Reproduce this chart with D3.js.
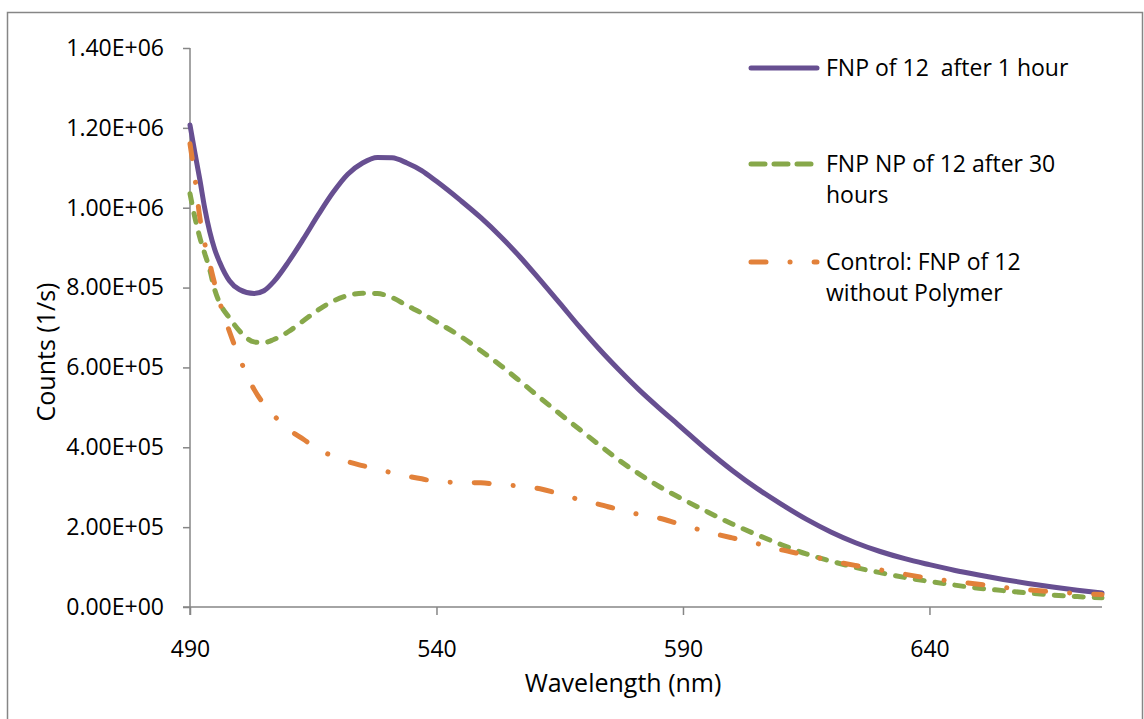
<!DOCTYPE html>
<html>
<head>
<meta charset="utf-8">
<script src="https://cdn.jsdelivr.net/npm/d3@7"></script>
<style>
  html, body { margin: 0; padding: 0; background: #fff; }
  svg { display: block; }
  text { font-family: "Open Sans", "Noto Sans", "Liberation Sans", sans-serif; fill: #000; white-space: pre; }
</style>
</head>
<body>
<svg id="chart" width="1144" height="719"></svg>
<script>
// ---- data (wavelength in nm, counts in 1/s) ----
const wavelengths = [490,491,492,493,494,495,496,498,500,503,505,507,510,513,516,519,522,525,528,531,534,537,540,545,549,553,557,561,565,569,573,577,581,585,589,595,600,605,610,615,620,625,630,635,640,645,650,655,660,665,670,675];

const fnp1hour = [1207000,1137000,1070000,998000,940000,896000,864000,817000,795000,785000,792000,815000,865000,922000,982000,1038000,1084000,1112000,1126000,1125000,1112000,1093000,1066000,1017000,975000,928000,876000,819000,761000,702000,646000,594000,545000,500000,457000,392000,342000,297000,257000,220000,188000,161000,139000,121000,106000,92000,80000,69000,59000,50000,42000,35000];

const fnp30hours = [1035000,975000,925000,885000,845000,795000,762000,724000,692000,664000,662000,670000,690000,717000,744000,766000,780000,786000,785000,775000,755000,736000,714000,677000,642000,605000,565000,524000,484000,445000,406000,368000,334000,303000,276000,238000,208000,181000,156000,133000,115000,99000,86000,74000,64000,55000,47000,41000,35000,30000,26000,23000];

const controlNoPolymer = [1160000,1075000,975000,910000,860000,810000,765000,690000,625000,545000,508000,480000,445000,420000,395000,378000,364000,354000,345000,336000,328000,321000,314000,312000,311000,306000,303000,296000,283000,269000,257000,244000,232000,223000,209000,188000,173000,159000,143000,130000,116000,104000,93000,82000,72000,64000,57000,49000,43000,38000,34000,31000];

const seriesNames = ["FNP of 12  after 1 hour", "FNP NP of 12 after 30 hours", "Control: FNP of 12 without Polymer"];
const legendLines = [["FNP of 12  after 1 hour"], ["FNP NP of 12 after 30", "hours"], ["Control: FNP of 12", "without Polymer"]];
const xTicks = [490, 540, 590, 640];
const yTicks = [0, 200000, 400000, 600000, 800000, 1000000, 1200000, 1400000];
const xTitle = "Wavelength (nm)";
const yTitle = "Counts (1/s)";

// ---- layout ----
const svg = d3.select("#chart");
const axisColor = "#868686";
const colors = ["#674f91", "#87a84a", "#e2813a"];
const dashes = [null, "9,11", "15,24,0.1,24"];

// outer border
svg.append("rect").attr("x", 7.5).attr("y", 12.5).attr("width", 1135).attr("height", 760)
  .attr("fill", "none").attr("stroke", axisColor).attr("stroke-width", 1.5);

const x = d3.scaleLinear().domain([490, 675]).range([190, 1102]);
const y = d3.scaleLinear().domain([0, 1400000]).range([607, 48]);

const fmt = v => {
  if (v === 0) return "0.00E+00";
  const e = Math.floor(Math.log10(v));
  const m = v / Math.pow(10, e);
  return m.toFixed(2) + "E+" + String(e).padStart(2, "0");
};

// y axis
const yAxis = svg.append("g").attr("transform", "translate(190,0)")
  .call(d3.axisLeft(y).tickValues(yTicks).tickFormat(fmt).tickSize(7).tickPadding(19));
yAxis.select(".domain").attr("d", "M0,48V615").attr("stroke", axisColor).attr("stroke-width", 1.5);
yAxis.selectAll(".tick line").attr("stroke", axisColor).attr("stroke-width", 1.5);
yAxis.selectAll(".tick text").attr("font-size", 23).attr("fill", "#000")
  .style("font-family", "'Open Sans', sans-serif");

// x axis
const xAxis = svg.append("g").attr("transform", "translate(0,607)")
  .call(d3.axisBottom(x).tickValues(xTicks).tickFormat(d3.format("d")).tickSize(8).tickPadding(26));
xAxis.select(".domain").attr("d", "M183,0H1102").attr("stroke", axisColor).attr("stroke-width", 1.5);
xAxis.selectAll(".tick line").attr("stroke", axisColor).attr("stroke-width", 1.5);
xAxis.selectAll(".tick text").attr("font-size", 23).attr("fill", "#000")
  .style("font-family", "'Open Sans', sans-serif");

// axis titles
svg.append("text").attr("x", 623).attr("y", 692).attr("text-anchor", "middle")
  .attr("font-size", 25).text(xTitle);
svg.append("text").attr("transform", "translate(55,352) rotate(-90)").attr("text-anchor", "middle")
  .attr("font-size", 25).text(yTitle);

// lines
const allSeries = [fnp1hour, fnp30hours, controlNoPolymer];
const line = d3.line().x((d, i) => x(wavelengths[i])).y(d => y(d)).curve(d3.curveMonotoneX);
allSeries.forEach((s, k) => {
  const p = svg.append("path").datum(s).attr("d", line)
    .attr("fill", "none").attr("stroke", colors[k]).attr("stroke-width", 5)
    .attr("stroke-linecap", "round").attr("stroke-linejoin", "round");
  if (dashes[k]) p.attr("stroke-dasharray", dashes[k]);
});

// legend
const legendY = [68, 164, 262];
legendLines.forEach((lines, k) => {
  const g = svg.append("g");
  const l = g.append("line").attr("x1", 751).attr("x2", 817).attr("y1", legendY[k]).attr("y2", legendY[k])
    .attr("stroke", colors[k]).attr("stroke-width", 5).attr("stroke-linecap", "round");
  if (dashes[k]) l.attr("stroke-dasharray", k === 1 ? "14,9" : dashes[k]);
  lines.forEach((t, j) => {
    g.append("text").attr("x", 826).attr("y", legendY[k] + 8 + j * 31)
      .attr("font-size", 23).text(t);
  });
});
</script>
</body>
</html>
